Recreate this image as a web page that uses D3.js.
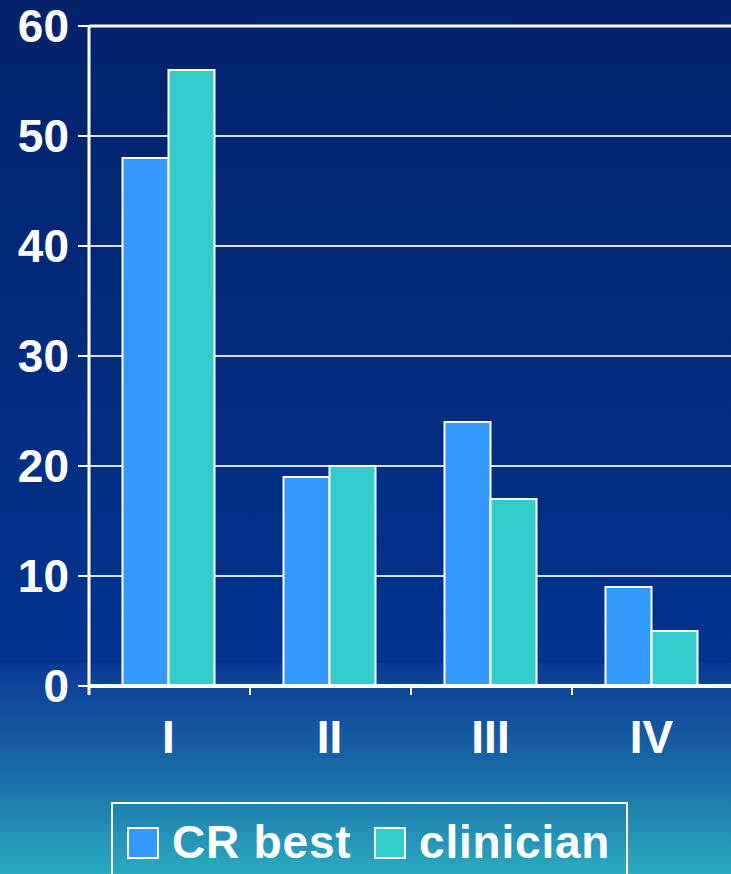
<!DOCTYPE html>
<html>
<head>
<meta charset="utf-8">
<script src="https://cdn.jsdelivr.net/npm/d3@7"></script>
<style>
  html, body { margin: 0; padding: 0; background: #03226a; }
  svg { display: block; }
  text { font-family: "Liberation Sans", Arial, sans-serif; font-weight: bold; fill: #ffffff; }
</style>
</head>
<body>
<svg id="chart" width="731" height="874"></svg>
<script>
// Stage groups and the two sources of the assessment
const categories = ["I", "II", "III", "IV"];
const seriesNames = ["CR best", "clinician"];
const crBest = [48, 19, 24, 9];
const clinician = [56, 20, 17, 5];
const yTicks = [0, 10, 20, 30, 40, 50, 60];
const seriesColors = ["#3399ff", "#33cccc"];

(function () {
const W = 731, H = 874;
const svg = d3.select("#chart");

// Background: deep navy behind the plot, lighter teal band below it
const defs = svg.append("defs");
const g1 = defs.append("linearGradient").attr("id", "bgTop").attr("x1", 0).attr("y1", 0).attr("x2", 0).attr("y2", 1);
g1.append("stop").attr("offset", "0%").attr("stop-color", "#03226a");
g1.append("stop").attr("offset", "100%").attr("stop-color", "#02338f");
const g2 = defs.append("linearGradient").attr("id", "bgBottom").attr("x1", 0).attr("y1", 0).attr("x2", 0).attr("y2", 1);
g2.append("stop").attr("offset", "0%").attr("stop-color", "#0a3a95");
g2.append("stop").attr("offset", "40%").attr("stop-color", "#175ea3");
g2.append("stop").attr("offset", "60%").attr("stop-color", "#1d76ab");
g2.append("stop").attr("offset", "100%").attr("stop-color", "#2aaac1");

svg.append("rect").attr("x", 0).attr("y", 0).attr("width", W).attr("height", 663).attr("fill", "url(#bgTop)");
svg.append("rect").attr("x", 0).attr("y", 663).attr("width", W).attr("height", H - 663).attr("fill", "url(#bgBottom)");

// Scales
const plotLeft = 89, plotRight = 733, plotTop = 26, plotBottom = 686;
const y = d3.scaleLinear().domain([0, 60]).range([plotBottom, plotTop]);
const x0 = d3.scaleBand().domain(categories).range([plotLeft - 1, plotRight - 1]).padding(0);
const x1 = d3.scaleBand().domain(seriesNames).range([0, x0.bandwidth()]).paddingInner(0).paddingOuter(0.75);

const rows = categories.map((c, i) => ({ cat: c, vals: [crBest[i], clinician[i]] }));

// Horizontal gridlines
svg.append("g").selectAll("line").data(yTicks.filter(t => t > 0)).join("line")
  .attr("x1", plotLeft).attr("x2", W)
  .attr("y1", d => y(d)).attr("y2", d => y(d))
  .attr("stroke", "#ffffff")
  .attr("stroke-opacity", d => d === 60 ? 1 : 0.85)
  .attr("stroke-width", d => d === 60 ? 3 : 2);

// Bars
const groups = svg.append("g").selectAll("g").data(rows).join("g")
  .attr("transform", d => `translate(${x0(d.cat)},0)`);
groups.selectAll("rect").data(d => d.vals.map((v, i) => ({ key: seriesNames[i], v, i }))).join("rect")
  .attr("x", d => x1(d.key))
  .attr("y", d => y(d.v))
  .attr("width", x1.bandwidth())
  .attr("height", d => y(0) - y(d.v))
  .attr("fill", d => seriesColors[d.i])
  .attr("stroke", "#ffffff")
  .attr("stroke-width", 2);

// Y axis
const yAxis = svg.append("g");
yAxis.append("line").attr("x1", plotLeft).attr("x2", plotLeft).attr("y1", y(60) - 1).attr("y2", y(0) + 9)
  .attr("stroke", "#ffffff").attr("stroke-width", 3);
yAxis.selectAll("line.tick").data(yTicks).join("line").attr("class", "tick")
  .attr("x1", 78).attr("x2", plotLeft).attr("y1", d => y(d)).attr("y2", d => y(d))
  .attr("stroke", "#ffffff").attr("stroke-width", 2);
yAxis.selectAll("text").data(yTicks).join("text")
  .attr("x", 69).attr("y", d => y(d) + 16)
  .attr("text-anchor", "end").attr("font-size", 46)
  .text(d => d);

// X axis
const xAxis = svg.append("g");
xAxis.append("line").attr("x1", plotLeft).attr("x2", W).attr("y1", y(0)).attr("y2", y(0))
  .attr("stroke", "#ffffff").attr("stroke-width", 4);
xAxis.selectAll("line.tick").data(categories).join("line").attr("class", "tick")
  .attr("x1", d => x0(d) + 1).attr("x2", d => x0(d) + 1)
  .attr("y1", y(0)).attr("y2", y(0) + 9)
  .attr("stroke", "#ffffff").attr("stroke-width", 2);
xAxis.selectAll("text").data(categories).join("text")
  .attr("x", d => x0(d) + x0.bandwidth() / 2)
  .attr("y", 753)
  .attr("text-anchor", "middle").attr("font-size", 46)
  .text(d => d);

// Legend
const legend = svg.append("g");
legend.append("rect").attr("x", 112).attr("y", 803).attr("width", 515).attr("height", 90)
  .attr("fill", "none").attr("stroke", "#ffffff").attr("stroke-width", 2);
const legendItems = [{ x: 128, tx: 172 }, { x: 375, tx: 419 }];
legendItems.forEach((it, i) => {
  legend.append("rect").attr("x", it.x).attr("y", 828).attr("width", 30).attr("height", 30)
    .attr("fill", seriesColors[i]).attr("stroke", "#ffffff").attr("stroke-width", 2);
  legend.append("text").attr("x", it.tx).attr("y", 858).attr("font-size", 46)
    .attr("letter-spacing", 0.8).text(seriesNames[i]);
});
})();
</script>
</body>
</html>
